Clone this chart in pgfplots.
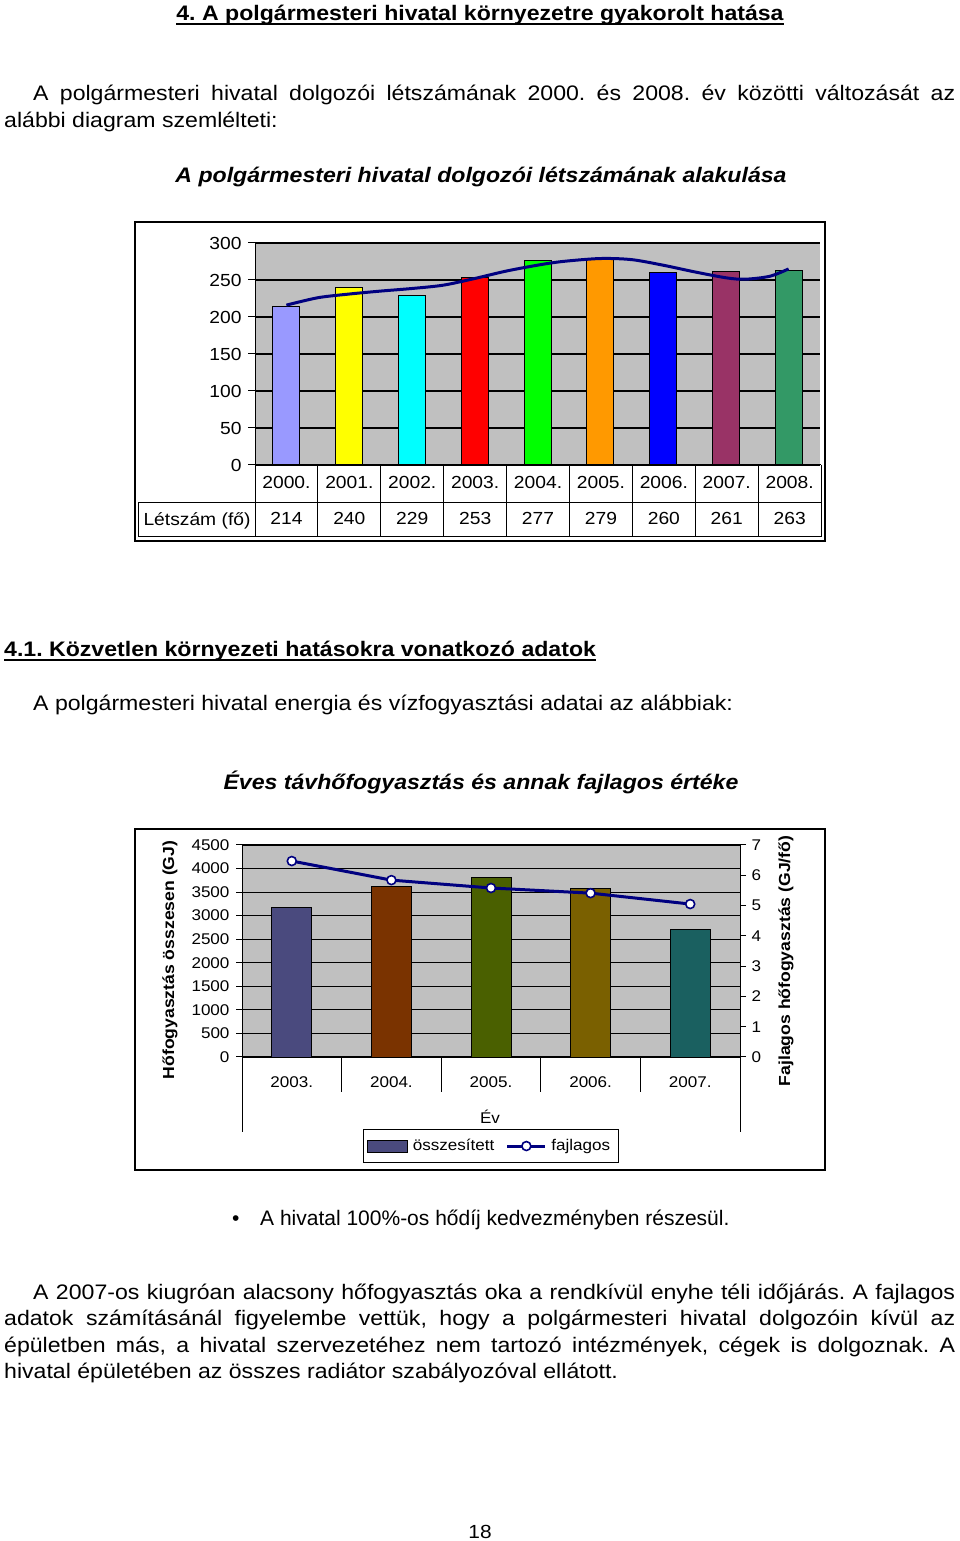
\documentclass[border=0pt]{standalone}
\usepackage{fontspec}
\setmainfont{Liberation Sans}[FakeStretch=1.1]
\newfontfamily\plainfont{Liberation Sans}
\usepackage{pgfplots}
\pgfplotsset{compat=1.18}
\definecolor{bggray}{RGB}{192,192,192}
\definecolor{navyl}{RGB}{0,0,128}
\definecolor{c00}{HTML}{9999FF}
\definecolor{c01}{HTML}{FFFF00}
\definecolor{c02}{HTML}{00FFFF}
\definecolor{c03}{HTML}{FF0000}
\definecolor{c04}{HTML}{00FF00}
\definecolor{c05}{HTML}{FF9900}
\definecolor{c06}{HTML}{0000FF}
\definecolor{c07}{HTML}{993366}
\definecolor{c08}{HTML}{339966}
\definecolor{h03}{HTML}{4A4A7E}
\definecolor{h04}{HTML}{7A3300}
\definecolor{h05}{HTML}{4A6000}
\definecolor{h06}{HTML}{7A6000}
\definecolor{h07}{HTML}{1A6060}
\pgfplotsset{mylinelegend/.style={legend image code/.code={\draw[mark repeat=2,mark phase=2,##1] plot coordinates {(0pt,0pt) (19pt,0pt) (38pt,0pt)};}},
  myarealegend/.style={legend image code/.code={\draw[fill=h03,draw=black,line width=1pt] (0pt,-6pt) rectangle (40pt,6pt);}}}
\newcommand{\body}{\fontsize{21}{26}\selectfont}
\newcommand{\cfa}{\fontsize{17.5}{17.5}\selectfont}
\newcommand{\cfb}{\fontsize{15.5}{15.5}\selectfont}
\begin{document}
\frenchspacing
\begin{tikzpicture}[x=1pt,y=1pt]
\path[use as bounding box] (0,0) rectangle (960,1541);
% ---------- page text ----------
\node[anchor=base,inner sep=0] (h1) at (480,1520.5) {\body\bfseries 4. A polgármesteri hivatal környezetre gyakorolt hatása};
\draw[line width=1.5pt] ([yshift=-3.5pt]h1.base west) -- ([yshift=-3.5pt]h1.base east);
\node[anchor=base west,inner sep=0] at (4,1440.5) {\body\hbox to 951pt{\hskip29pt A polgármesteri hivatal dolgozói létszámának 2000. és 2008. év közötti változását az}};
\node[anchor=base west,inner sep=0] at (4,1413.5) {\body alábbi diagram szemlélteti:};
\node[anchor=base,inner sep=0] at (481,1358.5) {\body\bfseries\itshape A polgármesteri hivatal dolgozói létszámának alakulása};
\node[anchor=base west,inner sep=0] (h2) at (4,884.5) {\body\bfseries 4.1. Közvetlen környezeti hatásokra vonatkozó adatok};
\draw[line width=1.5pt] ([yshift=-3.5pt]h2.base west) -- ([yshift=-3.5pt]h2.base east);
\node[anchor=base west,inner sep=0] at (33,830.5) {\body A polgármesteri hivatal energia és vízfogyasztási adatai az alábbiak:};
\node[anchor=base,inner sep=0] at (481,751.5) {\body\bfseries\itshape Éves távhőfogyasztás és annak fajlagos értéke};
\node[anchor=base west,inner sep=0] at (232,315.5) {\plainfont\body •};
\node[anchor=base west,inner sep=0] at (260,315.5) {\plainfont\body A hivatal 100\%-os hődíj kedvezményben részesül.};
\node[anchor=base west,inner sep=0] at (4,241.5) {\body\hbox to 951pt{\hskip29pt A 2007-os kiugróan alacsony hőfogyasztás oka a rendkívül enyhe téli időjárás. A fajlagos}};
\node[anchor=base west,inner sep=0] at (4,215.5) {\body\hbox to 951pt{adatok számításánál figyelembe vettük, hogy a polgármesteri hivatal dolgozóin kívül az}};
\node[anchor=base west,inner sep=0] at (4,188.5) {\body\hbox to 951pt{épületben más, a hivatal szervezetéhez nem tartozó intézmények, cégek is dolgoznak. A}};
\node[anchor=base west,inner sep=0] at (4,162.5) {\body hivatal épületében az összes radiátor szabályozóval ellátott.};
\node[anchor=base,inner sep=0] at (480,2.5) {\fontsize{19}{19}\selectfont 18};
% ---------- chart 1 ----------
\draw[line width=1.6pt] (135,1000) rectangle (825,1319);
\begin{axis}[at={(255pt,1076pt)}, anchor=south west, scale only axis,
  width=565pt, height=222pt, xmin=-0.5, xmax=8.5, ymin=0, ymax=300,
  ytick={0,50,...,300}, xtick=\empty,
  axis x line=none, axis y line*=left,
  y axis line style={line width=1pt},
  axis background/.style={fill=bggray},
  ymajorgrids, major grid style={black, line width=1.2pt},
  tick align=outside, major tick length=7pt, tick style={black,line width=1pt},
  yticklabel style={font=\cfa, xshift=-3pt},
  /pgf/number format/assume math mode=true]
\addplot[ybar, bar width=27pt, fill=c00, draw=black, line width=0.9pt] coordinates {(0,214)};
\addplot[ybar, bar width=27pt, fill=c01, draw=black, line width=0.9pt] coordinates {(1,240)};
\addplot[ybar, bar width=27pt, fill=c02, draw=black, line width=0.9pt] coordinates {(2,229)};
\addplot[ybar, bar width=27pt, fill=c03, draw=black, line width=0.9pt] coordinates {(3,253)};
\addplot[ybar, bar width=27pt, fill=c04, draw=black, line width=0.9pt] coordinates {(4,277)};
\addplot[ybar, bar width=27pt, fill=c05, draw=black, line width=0.9pt] coordinates {(5,279)};
\addplot[ybar, bar width=27pt, fill=c06, draw=black, line width=0.9pt] coordinates {(6,260)};
\addplot[ybar, bar width=27pt, fill=c07, draw=black, line width=0.9pt] coordinates {(7,261)};
\addplot[ybar, bar width=27pt, fill=c08, draw=black, line width=0.9pt] coordinates {(8,263)};
\addplot[smooth, navyl, line width=3pt] coordinates {(0,216) (0.5,226) (1,231) (1.5,235) (2,238.5) (2.5,243) (3,252) (3.5,262) (4,270) (4.4,275) (5,279) (5.5,277.5) (6,270) (6.5,261) (7,253) (7.3,251) (7.7,255) (8,265)};
\end{axis}
% data table of chart 1
\draw[line width=1pt] (255,1076) -- (821,1076);
\draw[line width=1pt] (138,1038) -- (821,1038);
\draw[line width=1pt] (138,1004) -- (821,1004);
\draw[line width=1pt] (138,1038) -- (138,1004);
\foreach \k in {0,...,9} {\draw[line width=1pt] ({255+\k*62.9},1076) -- ({255+\k*62.9},1004);}
\node[anchor=base,inner sep=0] at (197,1015) {\cfa Létszám (fő)};
\foreach \yr [count=\i from 0] in {2000.,2001.,2002.,2003.,2004.,2005.,2006.,2007.,2008.}
  {\node[anchor=base,inner sep=0] at ({286.45+\i*62.9},1052) {\cfa \yr};}
\foreach \v [count=\i from 0] in {214,240,229,253,277,279,260,261,263}
  {\node[anchor=base,inner sep=0] at ({286.45+\i*62.9},1016) {\cfa \v};}
% ---------- chart 2 ----------
\draw[line width=1.6pt] (135,371) rectangle (825,712);
\begin{axis}[at={(242pt,484pt)}, anchor=south west, scale only axis,
  width=498pt, height=212pt, xmin=-0.5, xmax=4.5, ymin=0, ymax=4500,
  ytick={0,500,...,4500}, xtick=\empty,
  axis x line=none, axis y line*=left,
  y axis line style={line width=1pt},
  axis background/.style={fill=bggray},
  ymajorgrids, major grid style={black, line width=1.2pt},
  tick align=outside, major tick length=6pt, tick style={black,line width=1pt},
  yticklabel style={font=\cfb, xshift=-3pt},
  /pgf/number format/assume math mode=true,
  /pgf/number format/1000 sep={}]
\addplot[ybar, bar width=40pt, fill=h03, draw=black, line width=0.9pt] coordinates {(0,3170)};
\addplot[ybar, bar width=40pt, fill=h04, draw=black, line width=0.9pt] coordinates {(1,3630)};
\addplot[ybar, bar width=40pt, fill=h05, draw=black, line width=0.9pt] coordinates {(2,3820)};
\addplot[ybar, bar width=40pt, fill=h06, draw=black, line width=0.9pt] coordinates {(3,3570)};
\addplot[ybar, bar width=40pt, fill=h07, draw=black, line width=0.9pt] coordinates {(4,2700)};
\end{axis}
\begin{axis}[at={(242pt,484pt)}, anchor=south west, scale only axis,
  width=498pt, height=212pt, xmin=-0.5, xmax=4.5, ymin=0, ymax=7,
  ytick={0,1,...,7}, xtick=\empty,
  axis x line=none, axis y line*=right,
  y axis line style={line width=1pt},
  tick align=outside, major tick length=6pt, tick style={black,line width=1pt},
  yticklabel style={font=\cfb, xshift=2pt},
  /pgf/number format/assume math mode=true,
  legend style={at={(0.5,-0.42)}, anchor=center, draw=black, line width=1pt, fill=white,
    font=\cfb, inner xsep=4pt, inner ysep=8pt,
    nodes={inner xsep=4.5pt},
    /tikz/every even column/.append style={column sep=7pt}},
  legend columns=2,
  legend cell align=left]
\addlegendimage{myarealegend}
\addlegendentry{összesített}
\addplot[navyl, line width=3pt, mark=*, mark size=4.5pt, mark options={fill=white, draw=navyl, line width=1.6pt}, mylinelegend]
  coordinates {(0,6.47) (1,5.84) (2,5.58) (3,5.41) (4,5.05)};
\addlegendentry{fajlagos}
\end{axis}
\foreach \xx in {341.6,441.2,540.8,640.4} {\draw[line width=1pt] (\xx,484) -- (\xx,449);}
\draw[line width=1pt] (242,484) -- (242,409);
\draw[line width=1pt] (740,484) -- (740,409);
\foreach \yr [count=\i from 0] in {2003.,2004.,2005.,2006.,2007.}
  {\node[anchor=base,inner sep=0] at ({291.8+\i*99.6},453) {\cfb \yr};}
\node[anchor=base,inner sep=0] at (490,417) {\cfb Év};
\node[rotate=90,inner sep=0] at (170,581) {\fontsize{16}{16}\selectfont\bfseries Hőfogyasztás összesen (GJ)};
\node[rotate=90,inner sep=0] at (786,580) {\fontsize{16}{16}\selectfont\bfseries Fajlagos hőfogyasztás (GJ/fő)};
\end{tikzpicture}
\end{document}
